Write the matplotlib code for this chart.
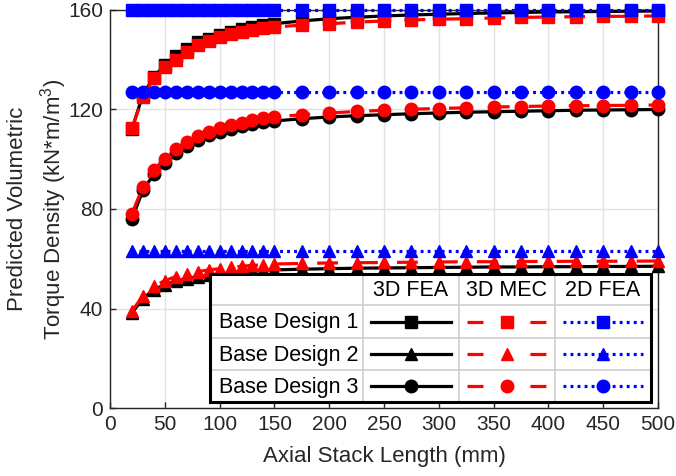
import matplotlib
matplotlib.use("Agg")
import matplotlib.pyplot as plt
from matplotlib.lines import Line2D

plt.rcParams['font.family'] = ['Liberation Sans', 'DejaVu Sans']
plt.rcParams['mathtext.fontset'] = 'custom'
plt.rcParams['mathtext.rm'] = 'Liberation Sans'
plt.rcParams['mathtext.it'] = 'Liberation Sans'

#-------------------------------------------------------------------------------
# datos: densidad de par volumetrica vs longitud axial
#-------------------------------------------------------------------------------

longitud = [20, 30, 40, 50, 60, 70, 80, 90, 100, 110, 120, 130, 140, 150,
            175, 200, 225, 250, 275, 300, 325, 350, 375, 400, 425, 450, 475, 500]

# Base Design 1
bd1_fea3d = [112, 126, 133, 138, 141.5, 144.5, 147, 148.5, 150, 151.2, 152.2,
             153, 153.8, 154.5, 155.6, 156.5, 157.1, 157.6, 158, 158.3, 158.6,
             158.8, 159, 159.2, 159.3, 159.4, 159.5, 159.6]
bd1_mec3d = [112.5, 125, 132.5, 137, 140, 143, 146, 147.5, 149, 150.3, 151.2,
             152, 152.6, 153.2, 153.9, 154.5, 155.1, 155.6, 156, 156.3, 156.5,
             156.8, 157, 157.2, 157.3, 157.4, 157.5, 157.6]
bd1_fea2d = 160

# Base Design 2
bd2_fea3d = [38.2, 44, 47.6, 49.6, 51, 52, 52.8, 53.4, 53.9, 54.3, 54.7, 55,
             55.3, 55.5, 55.8, 56, 56.2, 56.3, 56.4, 56.5, 56.6, 56.7, 56.7,
             56.8, 56.8, 56.9, 56.9, 57]
bd2_mec3d = [39, 45, 49, 51.2, 52.8, 54, 54.8, 55.5, 56, 56.5, 57, 57.3, 57.6,
             57.9, 58.1, 58.3, 58.4, 58.5, 58.6, 58.7, 58.8, 58.8, 58.9, 58.9,
             59, 59, 59, 59.1]
bd2_fea2d = 63

# Base Design 3
bd3_fea3d = [76, 87.5, 94, 98.5, 102.5, 105.5, 107.8, 109.6, 111, 112.3, 113.3,
             114.1, 114.8, 115.4, 116.3, 117, 117.5, 117.9, 118.3, 118.6, 118.9,
             119.1, 119.3, 119.5, 119.7, 119.8, 119.9, 120]
bd3_mec3d = [78, 89, 95.7, 100.2, 104.2, 107, 109.2, 111, 112.5, 113.8, 114.7,
             115.6, 116.4, 117, 117.9, 118.6, 119.2, 119.7, 120.1, 120.4, 120.7,
             121, 121.2, 121.4, 121.5, 121.6, 121.7, 121.8]
bd3_fea2d = 127

disenos = ['Base Design 1', 'Base Design 2', 'Base Design 3']
metodos = ['3D FEA', '3D MEC', '2D FEA']
marcadores = ['s', '^', 'o']

#-------------------------------------------------------------------------------
# estilos
#-------------------------------------------------------------------------------

LW = 2.3
MS = 9
estilo_fea3d = dict(color='black', linestyle='-', lw=LW)
estilo_mec3d = dict(color='red', linestyle=(0, (6.5, 6.0)), lw=LW)
estilo_fea2d = dict(color='blue', linestyle=(0, (0.9, 1.3)), lw=LW)
# en la leyenda el trazo discontinuo queda: raya, marcador, raya
estilo_mec3d_ley = dict(color='red', linestyle=(0, (5.0, 14.7)), lw=LW)
estilos_ley = [estilo_fea3d, estilo_mec3d_ley, estilo_fea2d]

fig = plt.figure(figsize=(6.76, 4.76), dpi=100)
ax = fig.add_axes([110 / 676, 68 / 476, 548 / 676, 398 / 476])

#-------------------------------------------------------------------------------
# curvas
#-------------------------------------------------------------------------------

series = [(bd1_fea3d, bd1_mec3d, bd1_fea2d),
          (bd2_fea3d, bd2_mec3d, bd2_fea2d),
          (bd3_fea3d, bd3_mec3d, bd3_fea2d)]

for (fea3d, mec3d, fea2d), mk in zip(series, marcadores):
    ax.plot(longitud, fea3d, marker=mk, markersize=MS, mec='black', mfc='black',
            clip_on=False, zorder=3, **estilo_fea3d)
for (fea3d, mec3d, fea2d), mk in zip(series, marcadores):
    ax.plot(longitud, mec3d, marker=mk, markersize=MS, mec='red', mfc='red',
            clip_on=False, zorder=4, **estilo_mec3d)
for (fea3d, mec3d, fea2d), mk in zip(series, marcadores):
    ax.plot(longitud, [fea2d] * len(longitud), marker=mk, markersize=MS,
            mec='blue', mfc='blue', clip_on=False, zorder=5, **estilo_fea2d)

ax.set_xlim(0, 500)
ax.set_ylim(0, 160)
ax.set_xticks(range(0, 501, 50))
ax.set_yticks([0, 40, 80, 120, 160])
ax.grid(True, color='#e2e2e2', lw=1)
ax.set_axisbelow(True)
ax.tick_params(direction='in', length=4, width=1, colors='#262626',
               labelsize=15, pad=5, labelcolor='#262626')
for s in ax.spines.values():
    s.set_color('#262626')
    s.set_linewidth(1)

ax.set_xlabel('Axial Stack Length (mm)', fontsize=16, color='#262626', labelpad=9)
ax.set_ylabel('Predicted Volumetric\nTorque Density (kN*m/m$^3$)', fontsize=16,
              color='#262626', labelpad=-1, linespacing=1.45)

#-------------------------------------------------------------------------------
# leyenda tipo tabla
#-------------------------------------------------------------------------------

lx0, ly0, lx1, ly1 = 210, 274, 651, 402
lg = fig.add_axes([lx0 / 676, (476 - ly1) / 476, (lx1 - lx0) / 676, (ly1 - ly0) / 476])
lg.set_xlim(lx0, lx1)
lg.set_ylim(ly1, ly0)
lg.set_xticks([])
lg.set_yticks([])
lg.set_facecolor('white')
for s in lg.spines.values():
    s.set_color('black')
    s.set_linewidth(2.2)

cols = [lx0, 363, 459, 555, lx1]
filas = [ly0, 305, 338, 370, ly1]
for c in cols[1:-1]:
    lg.axvline(c, color='#cfcfcf', lw=1.2)
for f in filas[1:-1]:
    lg.axhline(f, color='#cfcfcf', lw=1.2)

for j, met in enumerate(metodos):
    lg.text((cols[j + 1] + cols[j + 2]) / 2, (filas[0] + filas[1]) / 2 + 1, met,
            ha='center', va='center', fontsize=15.5, color='black')

for i, (dis, mk) in enumerate(zip(disenos, marcadores)):
    yc = (filas[i + 1] + filas[i + 2]) / 2
    lg.text(cols[0] + 9, yc + 1, dis, ha='left', va='center', fontsize=15.5, color='black')
    for j, est in enumerate(estilos_ley):
        xa, xb = cols[j + 1] + 8, cols[j + 2] - 8
        col = est['color']
        lg.add_line(Line2D([xa, xb], [yc, yc], **est))
        lg.plot([(xa + xb) / 2], [yc], marker=mk, markersize=MS, color=col,
                linestyle='none')

fig.savefig('out.png', dpi=100)
